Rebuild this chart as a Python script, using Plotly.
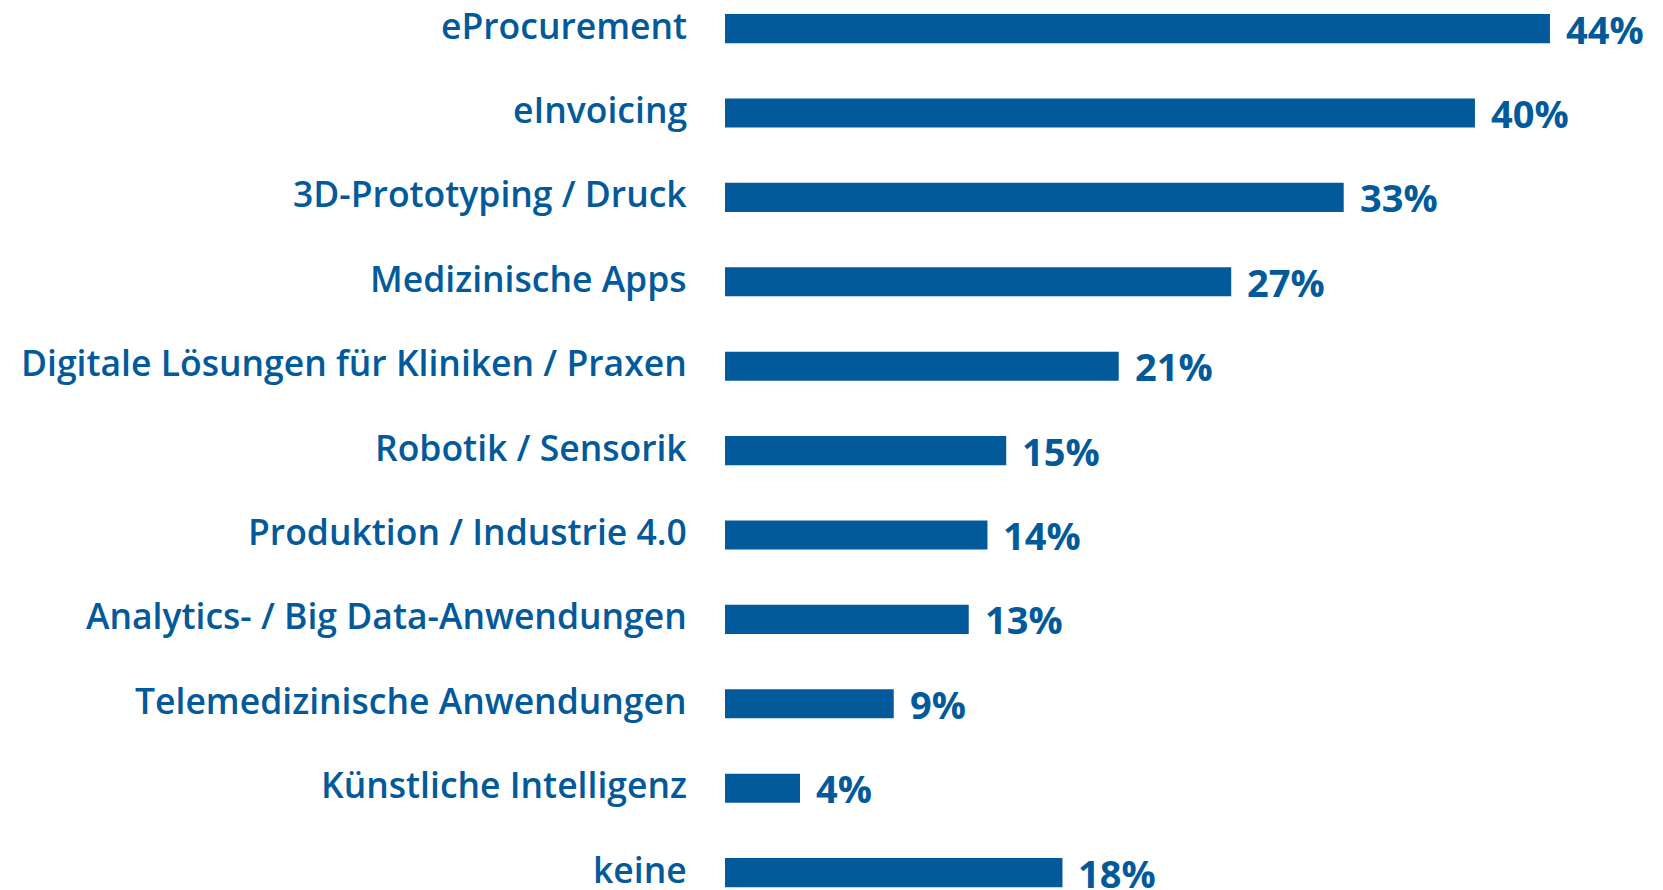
import plotly.graph_objects as go

categories = [
    "eProcurement",
    "eInvoicing",
    "3D-Prototyping / Druck",
    "Medizinische Apps",
    "Digitale Lösungen für Kliniken / Praxen",
    "Robotik / Sensorik",
    "Produktion / Industrie 4.0",
    "Analytics- / Big Data-Anwendungen",
    "Telemedizinische Anwendungen",
    "Künstliche Intelligenz",
    "keine",
]
values = [44, 40, 33, 27, 21, 15, 14, 13, 9, 4, 18]

BLUE = "#035a9a"

fig = go.Figure(
    go.Bar(
        x=values,
        y=categories,
        orientation="h",
        marker=dict(color=BLUE, line=dict(width=0)),
        width=0.345,
        hoverinfo="skip",
    )
)

for cat, val in zip(categories, values):
    # category label, left of the bars
    fig.add_annotation(
        x=0, xref="paper", y=cat, text=cat, showarrow=False,
        xanchor="right", yanchor="middle", xshift=-36, yshift=4,
        font=dict(family="Open Sans", size=35.5, color=BLUE, weight=600),
    )
    # value label, right of the bar end
    fig.add_annotation(
        x=val, y=cat, text=f"{val}%", showarrow=False,
        xanchor="left", yanchor="middle", xshift=14, yshift=0,
        font=dict(family="Open Sans", size=38, color=BLUE, weight=700),
    )

fig.update_layout(
    width=1663,
    height=890,
    margin=dict(l=725, r=0, t=0, b=0),
    plot_bgcolor="white",
    paper_bgcolor="white",
    showlegend=False,
    xaxis=dict(range=[0, 50.03], visible=False, fixedrange=True),
    yaxis=dict(
        type="category",
        range=[10.206, -0.339],
        showgrid=False,
        zeroline=False,
        showline=False,
        showticklabels=False,
        ticks="",
    ),
)

# drop the default page margin so the figure sits at the window's corner
fig.write_html(
    "out.html",
    config={"displayModeBar": False},
    post_script="document.body.style.margin='0';",
)
